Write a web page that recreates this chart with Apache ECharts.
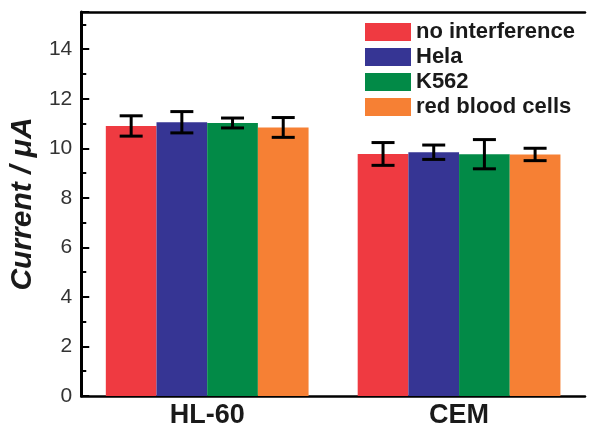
<!DOCTYPE html>
<html>
<head>
<meta charset="utf-8">
<script src="https://cdn.jsdelivr.net/npm/echarts@6/dist/echarts.min.js"></script>
<style>
    html, body { margin: 0; padding: 0; background: #fff; }
    #main { width: 589px; height: 429px; }
</style>
</head>
<body>
<div id="main"></div>
<script>
// data
var categories = ['HL-60', 'CEM'];
var seriesNames = ['no interference', 'Hela', 'K562', 'red blood cells'];
var colors = ['#EF3A41', '#363594', '#028A47', '#F68034'];

var noInterference = [10.90, 9.77];
var hela = [11.05, 9.84];
var k562 = [11.02, 9.76];
var redBloodCells = [10.84, 9.75];

var noInterferenceErr = [0.41, 0.46];
var helaErr = [0.43, 0.29];
var k562Err = [0.20, 0.59];
var redBloodCellsErr = [0.40, 0.25];

var yTicks = [0, 2, 4, 6, 8, 10, 12, 14];

var allValues = [noInterference, hela, k562, redBloodCells];
var allErrors = [noInterferenceErr, helaErr, k562Err, redBloodCellsErr];

var FONT = '"Liberation Sans", Arial, sans-serif';
var GAP = 0.195;

var chart = echarts.init(document.getElementById('main'));

// error bar items: [category, series index, value, error]
var errData = [];
for (var s = 0; s < allValues.length; s++) {
    for (var c = 0; c < categories.length; c++) {
        errData.push([c, s, allValues[s][c], allErrors[s][c]]);
    }
}

var series = seriesNames.map(function (name, i) {
    return {
        name: name,
        type: 'bar',
        barGap: 0,
        barCategoryGap: (GAP * 100) + '%',
        itemStyle: { color: colors[i] },
        data: allValues[i]
    };
});

series.push({
    name: 'err',
    type: 'custom',
    z: 10,
    encode: { x: 0, y: 2 },
    data: errData,
    renderItem: function (params, api) {
        var c = api.value(0), s = api.value(1), v = api.value(2), e = api.value(3);
        var mid = api.coord([c, v]);
        var barW = api.size([1, 0])[0] * (1 - GAP) / 4;
        var x = mid[0] + (s - 1.5) * barW;
        var top = api.coord([c, v + e])[1];
        var bot = api.coord([c, v - e])[1];
        var half = 11.5;
        var st = { stroke: '#000', lineWidth: 3 };
        return {
            type: 'group',
            children: [
                { type: 'line', shape: { x1: x, y1: top, x2: x, y2: bot }, style: st },
                { type: 'line', shape: { x1: x - half, y1: top, x2: x + half, y2: top }, style: st },
                { type: 'line', shape: { x1: x - half, y1: bot, x2: x + half, y2: bot }, style: st }
            ]
        };
    }
});

var option = {
    animation: false,
    backgroundColor: '#fff',
    grid: { left: 73, top: 12, width: 512, height: 387 },
    legend: {
        orient: 'vertical',
        left: 360,
        top: 16,
        icon: 'rect',
        itemWidth: 46,
        itemHeight: 18,
        itemGap: 3,
        data: seriesNames,
        textStyle: { fontFamily: FONT, fontSize: 22, fontWeight: 'bold', color: '#1a1a1a', lineHeight: 22 }
    },
    xAxis: [
        {
            type: 'category',
            data: categories,
            axisLine: { show: true, lineStyle: { color: '#000', width: 2.5 } },
            axisTick: { show: false },
            axisLabel: { margin: 6, fontFamily: FONT, fontSize: 27, fontWeight: 'bold', color: '#1a1a1a' },
            splitLine: { show: false }
        },
        {
            type: 'category',
            position: 'top',
            data: categories,
            axisLine: { show: true, lineStyle: { color: '#000', width: 2.5 } },
            axisTick: { show: false },
            axisLabel: { show: false },
            splitLine: { show: false }
        }
    ],
    yAxis: {
        type: 'value',
        min: 0,
        max: 15.5,
        interval: 2,
        name: 'Current / \u03bcA',
        nameLocation: 'middle',
        nameGap: 38,
        nameTextStyle: { fontFamily: FONT, fontSize: 30, fontWeight: 'bold', fontStyle: 'italic', color: '#1a1a1a' },
        axisLine: { show: true, lineStyle: { color: '#000', width: 3 } },
        axisTick: { show: true, inside: true, length: 8, lineStyle: { color: '#000', width: 2 } },
        minorTick: { show: true, splitNumber: 2, length: 5, lineStyle: { color: '#000', width: 2 } },
        axisLabel: {
            margin: 9,
            showMaxLabel: false,
            fontFamily: FONT,
            fontSize: 21,
            color: '#333',
            formatter: function (v) { return yTicks.indexOf(v) >= 0 ? String(v) : ''; }
        },
        splitLine: { show: false }
    },
    series: series
};

chart.setOption(option);
</script>
</body>
</html>
